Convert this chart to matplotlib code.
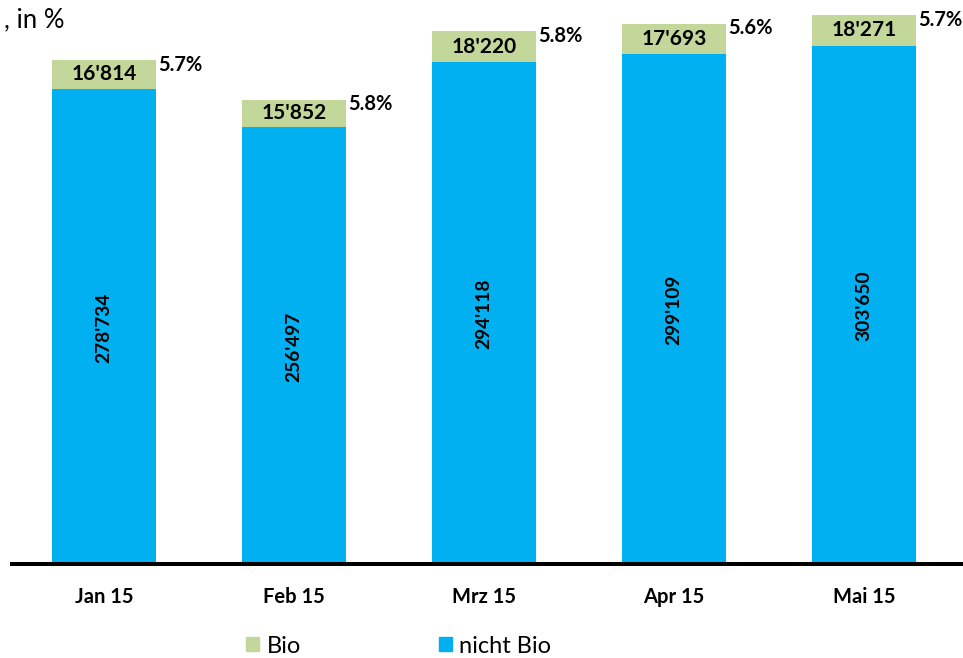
import matplotlib
matplotlib.use("Agg")
import matplotlib.pyplot as plt
import numpy as np
from matplotlib.patches import Patch

plt.rcParams["font.family"] = ["Lato", "DejaVu Sans"]

months = ["Jan 15", "Feb 15", "Mrz 15", "Apr 15", "Mai 15"]
nicht_bio = [278734, 256497, 294118, 299109, 303650]
bio = [16814, 15852, 18220, 17693, 18271]
bio_share = ["5.7%", "5.8%", "5.8%", "5.6%", "5.7%"]

BLUE = "#00B0F0"
GREEN = "#C4D79B"


def fmt(v):
    return f"{v:,}".replace(",", "'")


fig = plt.figure(figsize=(9.63, 6.58), dpi=100)
ax = fig.add_axes([10 / 963, 92 / 658, 953 / 963, 565 / 658])

x = np.arange(len(months))
width = 0.55
ax.bar(x, nicht_bio, width, color=BLUE, zorder=2)
ax.bar(x, bio, width, bottom=nicht_bio, color=GREEN, zorder=2)

for xi, nb, b, pct in zip(x, nicht_bio, bio, bio_share):
    ax.text(xi, nb / 2, fmt(nb), rotation=90, ha="center", va="center",
            fontsize=13.8, fontweight="bold")
    ax.text(xi, nb + b / 2, fmt(b), ha="center", va="center",
            fontsize=15, fontweight="bold")
    ax.text(xi + width / 2 + 0.01, nb + b - 2800, pct, ha="left", va="center",
            fontsize=14.5, fontweight="bold")

ax.axhline(0, color="black", linewidth=6.5, zorder=3)
ax.set_xlim(-0.4947, 4.521)
ax.set_ylim(0, 330000)
ax.set_yticks([])
ax.set_xticks(x, labels=months, fontsize=14.5, fontweight="bold")
ax.tick_params(axis="x", length=0, pad=15)
for side in ax.spines.values():
    side.set_visible(False)

fig.text(0.004, 1 - 20 / 658, ", in %", ha="left", va="center", fontsize=18.5)

handles = [Patch(color=GREEN, label="Bio"), Patch(color=BLUE, label="nicht Bio")]
fig.legend(handles=handles, loc="center", bbox_to_anchor=(0.414, 0.018), ncol=2,
           frameon=False, fontsize=17, handlelength=0.55, handleheight=0.55,
           handletextpad=0.3, columnspacing=5.85)

fig.savefig("out.png", dpi=100)
